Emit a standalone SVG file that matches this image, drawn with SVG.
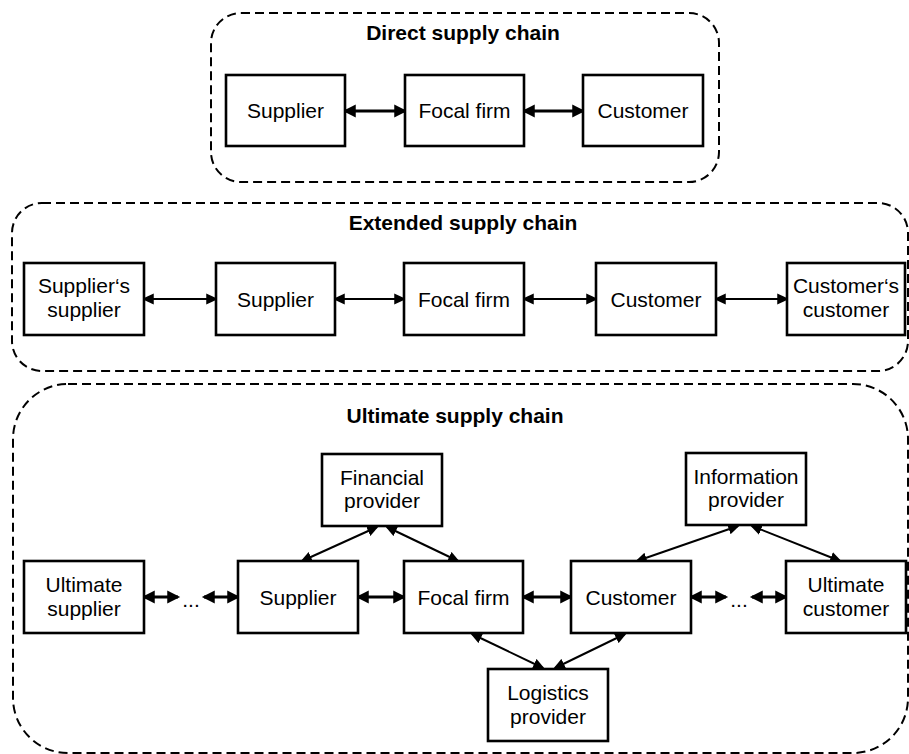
<svg xmlns="http://www.w3.org/2000/svg" width="909" height="754" viewBox="0 0 909 754">
<style>
.bg{fill:#fff}
.grp{fill:none;stroke:#000;stroke-width:2;stroke-dasharray:9 5}
.box{fill:#fff;stroke:#000;stroke-width:2.6}
.t{font-family:"Liberation Sans",Arial,sans-serif;font-size:21px;fill:#000;text-anchor:middle}
.title{font-family:"Liberation Sans",Arial,sans-serif;font-size:21px;font-weight:bold;fill:#000;text-anchor:middle}
.thick{stroke:#000;stroke-width:3;fill:none;marker-start:url(#hb);marker-end:url(#hb)}
.thin{stroke:#000;stroke-width:2;fill:none;marker-start:url(#hs);marker-end:url(#hs)}
</style>
<defs>
<marker id="hb" markerUnits="userSpaceOnUse" markerWidth="14" markerHeight="14" refX="10" refY="6" orient="auto-start-reverse" viewBox="0 0 13 12"><path d="M0,0 L12,6 L0,12 z" fill="#000"/></marker>
<marker id="hs" markerUnits="userSpaceOnUse" markerWidth="13" markerHeight="12" refX="9" refY="5" orient="auto-start-reverse" viewBox="0 0 12 10"><path d="M0,0 L11,5 L0,10 z" fill="#000"/></marker>
</defs>
<rect class="bg" x="0" y="0" width="909" height="754"/>

<g id="containers">
<rect class="grp" x="211" y="13" width="508" height="169" rx="30"/>
<rect class="grp" x="12" y="203" width="896" height="168" rx="30"/>
<rect class="grp" x="13" y="384" width="895" height="369" rx="55"/>
<text class="title" x="463" y="40">Direct supply chain</text>
<text class="title" x="463" y="230">Extended supply chain</text>
<text class="title" x="455" y="423">Ultimate supply chain</text>
</g>

<g id="connectors">
<line class="thick" x1="345" y1="111" x2="405" y2="111"/>
<line class="thick" x1="524" y1="111" x2="583" y2="111"/>

<line class="thin" x1="144" y1="299" x2="216" y2="299"/>
<line class="thin" x1="335" y1="299" x2="404" y2="299"/>
<line class="thin" x1="524" y1="299" x2="596" y2="299"/>
<line class="thin" x1="716" y1="299" x2="787" y2="299"/>

<line class="thick" x1="144" y1="597" x2="178" y2="597"/>
<line class="thick" x1="204" y1="597" x2="238" y2="597"/>
<line class="thick" x1="358" y1="597" x2="404" y2="597"/>
<line class="thick" x1="523" y1="597" x2="571" y2="597"/>
<line class="thick" x1="691" y1="597" x2="726" y2="597"/>
<line class="thick" x1="752" y1="597" x2="786" y2="597"/>

<line class="thin" x1="302" y1="561" x2="377" y2="527"/>
<line class="thin" x1="387" y1="527" x2="458" y2="561"/>
<line class="thin" x1="637" y1="561" x2="738" y2="526"/>
<line class="thin" x1="752" y1="526" x2="840" y2="561"/>
<line class="thin" x1="472" y1="634" x2="543" y2="668"/>
<line class="thin" x1="625" y1="634" x2="555" y2="668"/>
<text class="t" x="191" y="607">...</text>
<text class="t" x="739" y="607">...</text>
</g>

<g id="d-supplier"><rect class="box" x="226" y="75" width="119" height="71"/><text class="t" x="285.5" y="118">Supplier</text></g>
<g id="d-focal"><rect class="box" x="405" y="75" width="119" height="71"/><text class="t" x="464.5" y="118">Focal firm</text></g>
<g id="d-customer"><rect class="box" x="583" y="75" width="120" height="71"/><text class="t" x="643" y="118">Customer</text></g>

<g id="e-suppsupp"><rect class="box" x="24" y="263" width="120" height="72"/><text class="t" x="84" y="293">Supplier‘s</text><text class="t" x="84" y="317">supplier</text></g>
<g id="e-supplier"><rect class="box" x="216" y="263" width="119" height="72"/><text class="t" x="275.5" y="306.5">Supplier</text></g>
<g id="e-focal"><rect class="box" x="404" y="263" width="120" height="72"/><text class="t" x="464" y="306.5">Focal firm</text></g>
<g id="e-customer"><rect class="box" x="596" y="263" width="120" height="72"/><text class="t" x="656" y="306.5">Customer</text></g>
<g id="e-custcust"><rect class="box" x="787" y="263" width="118" height="72"/><text class="t" x="846" y="293">Customer‘s</text><text class="t" x="846" y="317">customer</text></g>

<g id="u-financial"><rect class="box" x="322" y="454" width="120" height="72"/><text class="t" x="382" y="485">Financial</text><text class="t" x="382" y="508">provider</text></g>
<g id="u-information"><rect class="box" x="686" y="453" width="120" height="72"/><text class="t" x="746" y="484">Information</text><text class="t" x="746" y="507">provider</text></g>
<g id="u-ultsupplier"><rect class="box" x="24" y="561" width="120" height="72"/><text class="t" x="84" y="592">Ultimate</text><text class="t" x="84" y="616">supplier</text></g>
<g id="u-supplier"><rect class="box" x="238" y="561" width="120" height="72"/><text class="t" x="298" y="604.5">Supplier</text></g>
<g id="u-focal"><rect class="box" x="404" y="561" width="119" height="72"/><text class="t" x="463.5" y="604.5">Focal firm</text></g>
<g id="u-customer"><rect class="box" x="571" y="561" width="120" height="72"/><text class="t" x="631" y="604.5">Customer</text></g>
<g id="u-ultcustomer"><rect class="box" x="786" y="561" width="120" height="72"/><text class="t" x="846" y="592">Ultimate</text><text class="t" x="846" y="616">customer</text></g>
<g id="u-logistics"><rect class="box" x="488" y="669" width="120" height="72"/><text class="t" x="548" y="700">Logistics</text><text class="t" x="548" y="724">provider</text></g>
</svg>
